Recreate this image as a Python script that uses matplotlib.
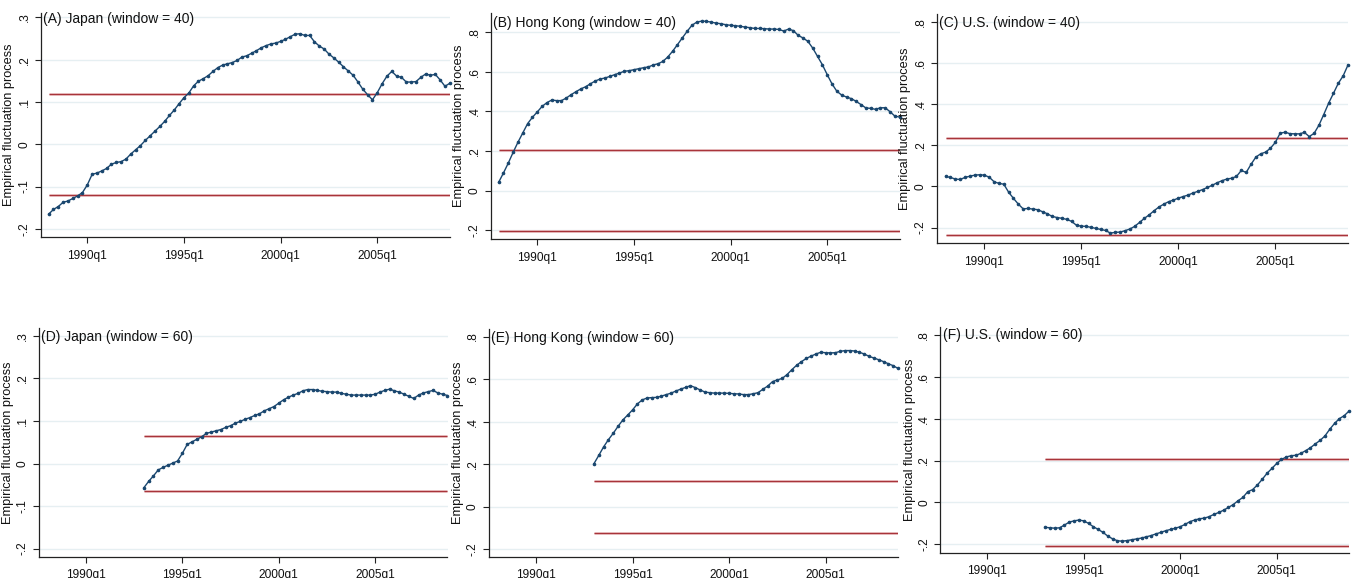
import numpy as np
import matplotlib
matplotlib.use("Agg")
import matplotlib.pyplot as plt

plt.rcParams['font.family'] = ['Liberation Sans', 'DejaVu Sans']

W, H = 1355, 578

# Quarterly sample: 1988q1-2008q4 for window 40, 1993q1-2008q4 for window 60
start40 = 1988.0
start60 = 1993.0
xticks = [1990, 1995, 2000, 2005]
xticklabels = ['1990q1', '1995q1', '2000q1', '2005q1']

jp40 = [-0.165, -0.154, -0.147, -0.137, -0.134, -0.128, -0.122, -0.114,
        -0.096, -0.071, -0.068, -0.063, -0.057, -0.047, -0.043, -0.041,
        -0.035, -0.023, -0.013, -0.003, 0.009, 0.020, 0.031, 0.042,
        0.054, 0.068, 0.081, 0.096, 0.110, 0.121, 0.138, 0.149,
        0.155, 0.162, 0.172, 0.181, 0.187, 0.190, 0.193, 0.198,
        0.206, 0.209, 0.215, 0.221, 0.228, 0.233, 0.237, 0.239,
        0.243, 0.248, 0.254, 0.260, 0.261, 0.257, 0.257, 0.242,
        0.232, 0.225, 0.213, 0.204, 0.194, 0.183, 0.173, 0.163,
        0.147, 0.130, 0.117, 0.105, 0.122, 0.143, 0.161, 0.172,
        0.161, 0.158, 0.147, 0.147, 0.148, 0.158, 0.166, 0.163,
        0.165, 0.152, 0.137, 0.144]

hk40 = [0.042, 0.089, 0.139, 0.193, 0.244, 0.291, 0.338, 0.370,
        0.397, 0.425, 0.444, 0.457, 0.454, 0.454, 0.467, 0.484,
        0.499, 0.513, 0.524, 0.539, 0.553, 0.563, 0.568, 0.576,
        0.585, 0.593, 0.602, 0.605, 0.610, 0.615, 0.620, 0.624,
        0.634, 0.640, 0.652, 0.674, 0.703, 0.736, 0.770, 0.803,
        0.834, 0.850, 0.855, 0.854, 0.850, 0.845, 0.842, 0.837,
        0.834, 0.832, 0.829, 0.825, 0.822, 0.818, 0.818, 0.817,
        0.815, 0.815, 0.813, 0.805, 0.815, 0.807, 0.783, 0.770,
        0.753, 0.719, 0.677, 0.635, 0.585, 0.538, 0.501, 0.482,
        0.472, 0.464, 0.450, 0.434, 0.417, 0.415, 0.410, 0.418,
        0.418, 0.398, 0.376, 0.371]

us40 = [0.049, 0.044, 0.036, 0.034, 0.044, 0.050, 0.055, 0.057,
        0.055, 0.045, 0.023, 0.015, 0.011, -0.028, -0.058, -0.086,
        -0.109, -0.107, -0.110, -0.113, -0.123, -0.133, -0.146, -0.151,
        -0.155, -0.160, -0.170, -0.189, -0.193, -0.194, -0.199, -0.204,
        -0.209, -0.214, -0.227, -0.223, -0.222, -0.215, -0.207, -0.194,
        -0.175, -0.155, -0.138, -0.118, -0.100, -0.086, -0.074, -0.066,
        -0.057, -0.049, -0.042, -0.032, -0.024, -0.015, -0.005, 0.006,
        0.018, 0.028, 0.036, 0.040, 0.049, 0.078, 0.068, 0.108,
        0.143, 0.159, 0.167, 0.186, 0.214, 0.259, 0.264, 0.257,
        0.256, 0.256, 0.263, 0.243, 0.258, 0.298, 0.350, 0.405,
        0.453, 0.502, 0.538, 0.591]

jp60 = [-0.057, -0.042, -0.029, -0.015, -0.009, -0.004, 0.001, 0.006,
        0.024, 0.045, 0.051, 0.057, 0.063, 0.071, 0.074, 0.077,
        0.080, 0.085, 0.089, 0.095, 0.099, 0.104, 0.108, 0.113,
        0.117, 0.124, 0.129, 0.134, 0.142, 0.150, 0.156, 0.161,
        0.165, 0.171, 0.174, 0.174, 0.172, 0.170, 0.169, 0.168,
        0.168, 0.165, 0.163, 0.161, 0.161, 0.161, 0.161, 0.161,
        0.163, 0.168, 0.172, 0.175, 0.171, 0.168, 0.163, 0.158,
        0.153, 0.161, 0.166, 0.169, 0.172, 0.166, 0.163, 0.160]

hk60 = [0.202, 0.241, 0.281, 0.315, 0.345, 0.378, 0.408, 0.431,
        0.455, 0.483, 0.502, 0.511, 0.513, 0.514, 0.520, 0.527,
        0.534, 0.544, 0.553, 0.561, 0.569, 0.560, 0.549, 0.539,
        0.536, 0.534, 0.534, 0.534, 0.533, 0.531, 0.530, 0.527,
        0.527, 0.531, 0.536, 0.552, 0.567, 0.588, 0.596, 0.603,
        0.621, 0.644, 0.665, 0.682, 0.697, 0.708, 0.718, 0.726,
        0.724, 0.723, 0.724, 0.730, 0.734, 0.734, 0.732, 0.726,
        0.718, 0.707, 0.699, 0.691, 0.682, 0.672, 0.663, 0.650]

us60 = [-0.119, -0.121, -0.123, -0.121, -0.108, -0.094, -0.088, -0.084,
        -0.088, -0.100, -0.116, -0.129, -0.143, -0.161, -0.174, -0.183,
        -0.185, -0.182, -0.178, -0.174, -0.170, -0.164, -0.158, -0.150,
        -0.143, -0.135, -0.129, -0.123, -0.116, -0.105, -0.092, -0.084,
        -0.078, -0.075, -0.068, -0.057, -0.048, -0.037, -0.024, -0.010,
        0.008, 0.024, 0.051, 0.061, 0.083, 0.110, 0.139, 0.162,
        0.186, 0.205, 0.217, 0.223, 0.225, 0.234, 0.247, 0.261,
        0.279, 0.296, 0.317, 0.349, 0.377, 0.400, 0.414, 0.436]

# Critical boundaries (+/-) of each fluctuation test
bounds = [0.119, 0.203, 0.237, 0.064, 0.123, 0.208]

titles = ['(A) Japan (window = 40)', '(B) Hong Kong (window = 40)',
          '(C) U.S. (window = 40)', '(D) Japan (window = 60)',
          '(E) Hong Kong (window = 60)', '(F) U.S. (window = 60)']

yt_jp = [-0.2, -0.1, 0, 0.1, 0.2, 0.3]
ytl_jp = ['-.2', '-.1', '0', '.1', '.2', '.3']
yt_hk = [-0.2, 0, 0.2, 0.4, 0.6, 0.8]
ytl_hk = ['-.2', '0', '.2', '.4', '.6', '.8']

series = [jp40, hk40, us40, jp60, hk60, us60]
starts = [start40, start40, start40, start60, start60, start60]
yticks = [yt_jp, yt_hk, yt_hk, yt_jp, yt_hk, yt_hk]
yticklabels = [ytl_jp, ytl_hk, ytl_hk, ytl_jp, ytl_hk, ytl_hk]

# Panel geometry in pixels: left, right, top, bottom, xlim, ylim,
# title position, y-label x position
panels = [
    (40.7, 449.8, 13, 237, (1987.59, 2008.75), (-0.219, 0.310), (43.3, 18.5), 15.0),
    (490.7, 899.7, 13, 239, (1987.59, 2008.75), (-0.244, 0.896), (493.3, 22.5), 465.0),
    (936.7, 1348.0, 14, 243, (1987.54, 2008.75), (-0.275, 0.839), (939.3, 22.5), 910.7),
    (38.7, 447.5, 328.3, 556.7, (1987.55, 2008.75), (-0.219, 0.318), (41.0, 337.3), 14.0),
    (488.7, 898.0, 329.3, 556.7, (1987.55, 2008.75), (-0.235, 0.834), (491.0, 338.3), 464.0),
    (940.0, 1349.0, 327.3, 552.7, (1987.55, 2008.75), (-0.240, 0.836), (942.7, 335.0), 915.7),
]

navy = '#1a476f'
maroon = '#a8343a'
grid_c = '#e6eff2'

fig = plt.figure(figsize=(W / 100, H / 100), dpi=100)
fig.patch.set_facecolor('white')

for k in range(6):
    l, r, t, b, xl, yl, tpos, labx = panels[k]
    ax = fig.add_axes([l / W, 1 - b / H, (r - l) / W, (b - t) / H])
    vals = np.array(series[k])
    x = starts[k] + np.arange(len(vals)) / 4.0

    for yv in yticks[k]:
        ax.axhline(yv, color=grid_c, lw=1.0, zorder=0)

    c = bounds[k]
    xb = [x[0], x[-1]]
    for sgn in (1, -1):
        ax.plot(xb, [sgn * c, sgn * c], color='#e4b0b3', lw=1.9,
                solid_capstyle='butt', zorder=1)
        ax.plot(xb, [sgn * c, sgn * c], color=maroon, lw=0.8,
                solid_capstyle='butt', zorder=2)

    ax.plot(x, vals, color=navy, lw=1.0, marker='o', ms=1.6,
            mec=navy, mfc=navy, zorder=3, clip_on=False)

    ax.set_xlim(*xl)
    ax.set_ylim(*yl)
    ax.set_xticks(xticks)
    ax.set_xticklabels(xticklabels, fontsize=8.6)
    ax.set_yticks(yticks[k])
    ax.set_yticklabels(yticklabels[k], fontsize=8.6, rotation=90,
                       va='center')
    ax.tick_params(axis='both', direction='out', length=4, width=0.8,
                   color='#222222', labelcolor='#111111')
    ax.tick_params(axis='x', pad=5)
    ax.tick_params(axis='y', pad=3)
    for s in ('top', 'right'):
        ax.spines[s].set_visible(False)
    for s in ('left', 'bottom'):
        ax.spines[s].set_color('#222222')
        ax.spines[s].set_linewidth(0.9)
    ax.set_ylabel('Empirical fluctuation process', fontsize=9.2,
                  color='#111111')
    ax.yaxis.set_label_coords((labx - l) / (r - l), 0.5)

    fig.text(tpos[0] / W, 1 - tpos[1] / H, titles[k], fontsize=10,
             ha='left', va='center', color='#111111')

fig.savefig('out.png', dpi=100, facecolor='white')
